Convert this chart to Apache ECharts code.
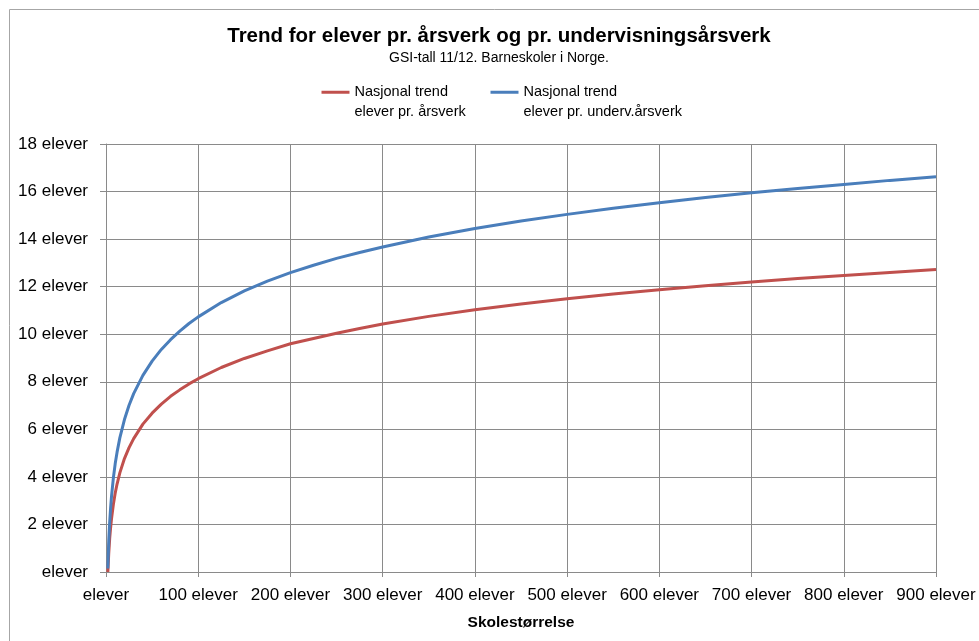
<!DOCTYPE html>
<html lang="no">
<head>
    <meta charset="UTF-8">
    <title>Trend for elever pr. årsverk</title>
    <script src="https://cdn.jsdelivr.net/npm/echarts@6/dist/echarts.min.js"></script>
    <style>
        html, body { margin: 0; padding: 0; background: #fff; }
    </style>
</head>
<body>
<div id="main" style="width: 979px;height:641px;"></div>
<script type="text/javascript">
    // skolestørrelse (antall elever)
    var schoolSize = [2, 3, 4, 5, 6, 8, 10, 12, 15, 20, 25, 30, 40, 50, 60, 70, 80, 90, 100,
        125, 150, 175, 200, 225, 250, 275, 300, 350, 400, 450, 500, 550, 600, 650, 700, 750, 800, 850, 900];
    // elever pr. årsverk
    var perArsverk = [0, 0.8, 1.41, 1.87, 2.25, 2.85, 3.32, 3.7, 4.17, 4.77, 5.23, 5.61, 6.22, 6.68, 7.06, 7.39, 7.66, 7.91, 8.13,
        8.6, 8.98, 9.3, 9.6, 9.82, 10.04, 10.24, 10.43, 10.75, 11.03, 11.27, 11.49, 11.69, 11.87, 12.04, 12.2, 12.34, 12.47, 12.6, 12.72];
    // elever pr. undervisningsårsverk
    var perUnderv = [0.15, 1.33, 2.1, 2.7, 3.19, 3.96, 4.56, 5.04, 5.64, 6.41, 7.01, 7.5, 8.27, 8.87, 9.36, 9.77, 10.13, 10.45, 10.73,
        11.33, 11.82, 12.23, 12.59, 12.9, 13.19, 13.44, 13.67, 14.09, 14.45, 14.76, 15.04, 15.3, 15.53, 15.75, 15.95, 16.13, 16.3, 16.47, 16.62];
    var seriesNames = ['Nasjonal trend\nelever pr. årsverk', 'Nasjonal trend\nelever pr. underv.årsverk'];

    var font = 'Liberation Sans';
    var gridColor = '#8a8a8a';

    function pairs(xs, ys) {
        var out = [];
        for (var i = 0; i < xs.length; i++) {
            out.push([xs[i], ys[i]]);
        }
        return out;
    }

    function eleverLabel(v) {
        return v === 0 ? 'elever' : v + ' elever';
    }

    // blank first line so the line icon sits beside the first text line
    function legendName(name) {
        return '\n' + name;
    }

    var legendText = {
        fontFamily: font,
        fontSize: 14.5,
        color: '#000',
        lineHeight: 19.5
    };

    var myChart = echarts.init(document.getElementById('main'));
    var option = {
        backgroundColor: '#fff',
        animation: false,
        title: {
            text: 'Trend for elever pr. årsverk og pr. undervisningsårsverk',
            subtext: 'GSI-tall 11/12. Barneskoler i Norge.',
            left: 499,
            textAlign: 'center',
            top: 24,
            padding: 0,
            itemGap: 2,
            textStyle: {
                fontFamily: font,
                fontSize: 20.5,
                fontWeight: 'bold',
                color: '#000',
                lineHeight: 24
            },
            subtextStyle: {
                fontFamily: font,
                fontSize: 14,
                color: '#000',
                lineHeight: 16
            }
        },
        legend: [{
            data: [seriesNames[0]],
            formatter: legendName,
            left: 320,
            top: 63,
            padding: 0,
            itemWidth: 28,
            itemHeight: 14,
            itemGap: 2,
            itemStyle: { opacity: 0, borderWidth: 0 },
            lineStyle: { width: 3 },
            textStyle: legendText
        }, {
            data: [seriesNames[1]],
            formatter: legendName,
            left: 489,
            top: 63,
            padding: 0,
            itemWidth: 28,
            itemHeight: 14,
            itemGap: 2,
            itemStyle: { opacity: 0, borderWidth: 0 },
            lineStyle: { width: 3 },
            textStyle: legendText
        }],
        grid: {
            left: 106,
            right: 43,
            top: 144,
            bottom: 69,
            containLabel: false
        },
        xAxis: {
            type: 'value',
            min: 0,
            max: 900,
            interval: 100,
            name: 'Skolestørrelse',
            nameLocation: 'middle',
            nameGap: 43,
            nameTextStyle: {
                fontFamily: font,
                fontSize: 15.5,
                fontWeight: 'bold',
                color: '#000'
            },
            axisLine: { lineStyle: { color: gridColor, width: 1 } },
            axisTick: { show: true, length: 5, lineStyle: { color: gridColor } },
            axisLabel: {
                margin: 15,
                fontFamily: font,
                fontSize: 17,
                color: '#000',
                formatter: eleverLabel
            },
            splitLine: { show: true, lineStyle: { color: gridColor, width: 1 } }
        },
        yAxis: {
            type: 'value',
            min: 0,
            max: 18,
            interval: 2,
            axisLine: { show: true, lineStyle: { color: gridColor, width: 1 } },
            axisTick: { show: true, length: 6, lineStyle: { color: gridColor } },
            axisLabel: {
                margin: 18,
                fontFamily: font,
                fontSize: 17,
                color: '#000',
                formatter: eleverLabel
            },
            splitLine: { show: true, lineStyle: { color: gridColor, width: 1 } }
        },
        graphic: [{
            type: 'rect',
            shape: { x: 9.5, y: 9.5, width: 1000, height: 700 },
            style: { fill: 'none', stroke: '#a6a6a6', lineWidth: 1 },
            silent: true
        }],
        series: [{
            name: seriesNames[0],
            type: 'line',
            data: pairs(schoolSize, perArsverk),
            symbol: 'none',
            smooth: false,
            color: '#C0504D',
            lineStyle: { width: 3, color: '#C0504D' }
        }, {
            name: seriesNames[1],
            type: 'line',
            data: pairs(schoolSize, perUnderv),
            symbol: 'none',
            smooth: false,
            color: '#4A7EBB',
            lineStyle: { width: 3, color: '#4A7EBB' }
        }]
    };
    myChart.setOption(option);
</script>
</body>
</html>
